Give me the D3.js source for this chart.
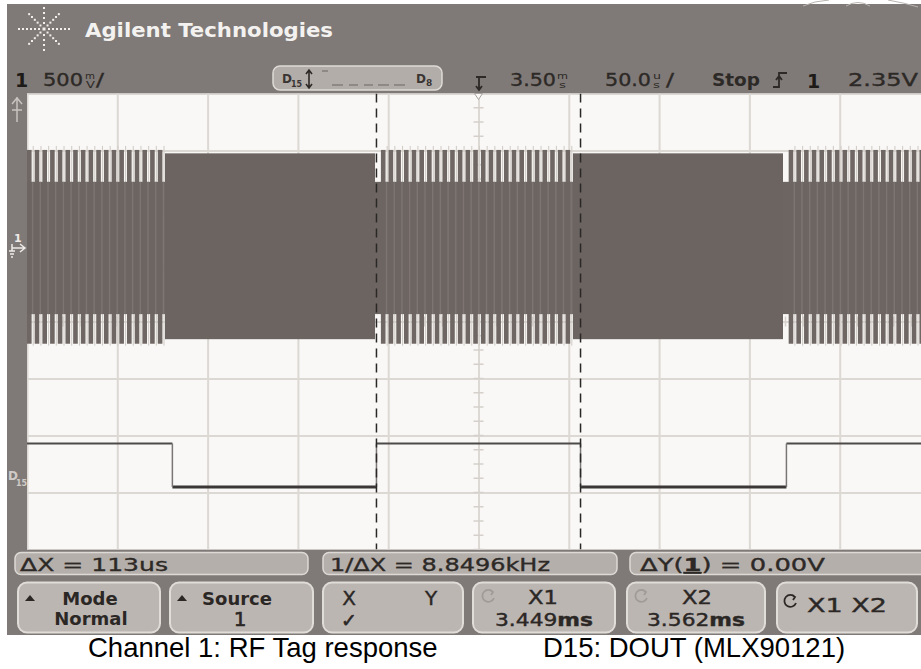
<!DOCTYPE html>
<html>
<head>
<meta charset="utf-8">
<script src="https://cdn.jsdelivr.net/npm/d3@7"></script>
<style>
  html, body { margin: 0; padding: 0; background: #ffffff; }
  svg { display: block; }
</style>
</head>
<body>
<svg id="scope" width="921" height="669"></svg>
<script>
// ---------- acquisition settings ----------
const timePerDiv = 0.05;          // ms per division (50.0 us/div)
const screenCenterTime = 3.5055;  // ms at the centre graticule line
const voltsPerDiv = 0.5;          // channel 1, 500 mV/div
const ch1CenterVolts = -0.645;    // volts at the screen's middle line

// ---------- channel 1: RF tag response ----------
// segment boundaries (ms) and whether the carrier is load-modulated there
const rfEdges = [3.3319, 3.4482, 3.5578, 3.6741];
const rfModulated = [true, false, true, false, true];
const rfCarrierAmp = [0.83, -0.80];      // unmodulated envelope (V)
const rfCoreAmp = [0.58, -0.58];         // modulated envelope, low phase (V)
const rfSpikeAmp = [0.86, -0.84];        // modulated envelope, high phase (V)
const subcarrierPeriod = 0.00426;        // ms

// ---------- digital channel D15: DOUT ----------
const d15Edges = [3.336, 3.449, 3.562, 3.676];
const d15Levels = [1, 0, 1, 0, 1];

// ---------- cursors ----------
const cursorTimes = [3.449, 3.562];      // X1, X2

// ---------- status / measurement text ----------
const headerTitle = "Agilent Technologies";
const measureLabels = ["\u0394X = 113us", "1/\u0394X = 8.8496kHz"];
const measureDY = ["\u0394Y(", "1", ") = 0.00V"];
const softkeyTop = ["Mode", "Source", "X", "X1", "X2", "X1 X2"];
const softkeyBottom = ["Normal", "1", "\u2713", "3.449ms", "3.562ms", ""];
const captions = ["Channel 1: RF Tag response", "D15: DOUT (MLX90121)"];

// ---------- layout ----------
const svg = d3.select("#scope");
const bezel = "#7f7a77";
const ink = "#2d2926";
const plot = { left: 27, top: 93.5, divW: 90.3, divH: 57, nx: 10, ny: 8 };
const plotW = plot.nx * plot.divW, plotH = plot.ny * plot.divH;
const visRight = 921;

const x = d3.scaleLinear()
  .domain([screenCenterTime - 5 * timePerDiv, screenCenterTime + 5 * timePerDiv])
  .range([plot.left, plot.left + plotW]);
const y1 = d3.scaleLinear()
  .domain([ch1CenterVolts - 4 * voltsPerDiv, ch1CenterVolts + 4 * voltsPerDiv])
  .range([plot.top + plotH, plot.top]);
const yD = d3.scaleLinear().domain([0, 1]).range([487, 443.5]);

const defs = svg.append("defs");
defs.append("clipPath").attr("id", "plotClip")
  .append("rect").attr("x", plot.left).attr("y", plot.top)
  .attr("width", visRight - plot.left).attr("height", plotH);

// bezel
svg.append("rect").attr("x", 7).attr("y", 4).attr("width", 921 - 7).attr("height", 631).attr("fill", bezel);

// decorative arcs above the bezel, top right
svg.append("path")
  .attr("d", "M803,6 Q814,1 829,0 M846,6 Q858,-1 870,6 M888,0 Q905,3 918,7")
  .attr("fill", "none").attr("stroke", "#b8b4b1").attr("stroke-width", 1);

// graticule background
svg.append("rect").attr("x", plot.left).attr("y", plot.top)
  .attr("width", visRight - plot.left).attr("height", plotH).attr("fill", "#f9f8f6");

const plotG = svg.append("g").attr("clip-path", "url(#plotClip)");

// grid through d3 axes
const divTimes = d3.range(0, plot.nx + 1).map(i => x.domain()[0] + i * timePerDiv);
const divVolts = d3.range(0, plot.ny + 1).map(i => y1.domain()[0] + i * voltsPerDiv);
const gridX = plotG.append("g").attr("transform", `translate(0,${plot.top + plotH})`)
  .call(d3.axisBottom(x).tickValues(divTimes).tickSize(-plotH).tickFormat(""));
const gridY = plotG.append("g").attr("transform", `translate(${plot.left},0)`)
  .call(d3.axisLeft(y1).tickValues(divVolts).tickSize(-plotW).tickFormat(""));
[gridX, gridY].forEach(g => {
  g.select(".domain").remove();
  g.selectAll("line").attr("stroke", "#dcd8d3").attr("stroke-width", 2);
});

// minor ticks on the centre lines
const xc = x(screenCenterTime);
const minorV = d3.range(0, plot.ny * 4 + 1).map(i => y1.domain()[0] + i * voltsPerDiv / 4);
plotG.append("g").selectAll("line").data(minorV).join("line")
  .attr("x1", xc - 5).attr("x2", xc + 5)
  .attr("y1", d => y1(d)).attr("y2", d => y1(d))
  .attr("stroke", "#d5d0cb").attr("stroke-width", 1.5);
const minorH = d3.range(0, plot.nx * 5 + 1).map(i => x.domain()[0] + i * timePerDiv / 5);
const yc = y1(ch1CenterVolts);
plotG.append("g").selectAll("line").data(minorH).join("line")
  .attr("x1", d => x(d)).attr("x2", d => x(d))
  .attr("y1", yc - 5).attr("y2", yc + 5)
  .attr("stroke", "#d5d0cb").attr("stroke-width", 1.5);

// ---------- channel 1 trace ----------
const segBounds = [x.domain()[0]].concat(rfEdges, [x.domain()[1]]);
const segments = rfModulated.map((m, i) => ({ t0: segBounds[i], t1: segBounds[i + 1], mod: m }));
const rfG = plotG.append("g");
const waveDark = "#6c6461";

segments.filter(s => !s.mod).forEach(s => {
  rfG.append("rect")
    .attr("x", x(s.t0)).attr("width", x(s.t1) - x(s.t0))
    .attr("y", y1(rfCarrierAmp[0])).attr("height", y1(rfCarrierAmp[1]) - y1(rfCarrierAmp[0]))
    .attr("fill", waveDark);
});

const pw = x(x.domain()[0] + subcarrierPeriod) - x(x.domain()[0]);
segments.filter(s => s.mod).forEach(s => {
  const k0 = Math.ceil((s.t0 - x.domain()[0]) / subcarrierPeriod);
  const k1 = Math.floor((s.t1 - x.domain()[0]) / subcarrierPeriod);
  const pulses = d3.range(k0, k1 + 1).map(k => x.domain()[0] + k * subcarrierPeriod);
  const inside = pulses.filter(d => d + subcarrierPeriod * 0.62 <= s.t1);
  const yTop = y1(rfSpikeAmp[0]), yBot = y1(rfSpikeAmp[1]);
  const cTop = y1(rfCoreAmp[0]), cBot = y1(rfCoreAmp[1]);
  // thin light carrier peaks between bursts
  rfG.append("g").selectAll("rect").data(inside).join("rect")
    .attr("x", d => x(d) + pw * 0.74).attr("width", 1.1)
    .attr("y", yTop - 4).attr("height", yBot - yTop + 6)
    .attr("fill", "#d3cdc8");
  // full-amplitude bursts
  rfG.append("g").selectAll("rect").data(inside).join("rect")
    .attr("x", d => x(d)).attr("width", pw * 0.6)
    .attr("y", yTop).attr("height", yBot - yTop)
    .attr("fill", "#6f6764");
  // low-amplitude core
  rfG.append("rect")
    .attr("x", x(s.t0)).attr("width", x(s.t1) - x(s.t0))
    .attr("y", cTop).attr("height", cBot - cTop)
    .attr("fill", "#6d6562");
  rfG.append("g").selectAll("rect").data(inside).join("rect")
    .attr("x", d => x(d) + pw * 0.64).attr("width", 1.4)
    .attr("y", cTop).attr("height", cBot - cTop)
    .attr("fill", "#7c7572");
});

// ---------- D15 trace ----------
const dBounds = [x.domain()[0]].concat(d15Edges, [x.domain()[1]]);
const dG = plotG.append("g");
d15Levels.forEach((lv, i) => {
  dG.append("line")
    .attr("x1", x(dBounds[i])).attr("x2", x(dBounds[i + 1]))
    .attr("y1", yD(lv)).attr("y2", yD(lv))
    .attr("stroke", lv ? "#4f4a4a" : "#3b3737")
    .attr("stroke-width", lv ? 1.8 : 3);
});
d15Edges.forEach(t => {
  dG.append("line").attr("x1", x(t)).attr("x2", x(t))
    .attr("y1", yD(1)).attr("y2", yD(0))
    .attr("stroke", "#7a7575").attr("stroke-width", 1.5);
});

// ---------- cursors ----------
plotG.append("g").selectAll("line").data(cursorTimes).join("line")
  .attr("x1", d => x(d)).attr("x2", d => x(d))
  .attr("y1", plot.top).attr("y2", plot.top + plotH)
  .attr("stroke", "#2a2727").attr("stroke-width", 1.5)
  .attr("stroke-dasharray", "9,6");

// trigger position marker
svg.append("path")
  .attr("d", `M${xc - 4},${plot.top} L${xc + 4},${plot.top} L${xc},${plot.top + 6} Z`)
  .attr("fill", "#f9f8f6").attr("stroke", "#a9a39f").attr("stroke-width", 1);

// ---------- left strip markers ----------
const mk = svg.append("g").attr("fill", "none").attr("stroke", "#c9c4c0").attr("stroke-width", 1.5);
mk.append("path").attr("d", "M17,97 L17,122 M12,104 L17,98 L22,104 M12,110 L22,110");
const g0 = y1(0);
svg.append("text").attr("x", 14).attr("y", g0 - 6).text("1")
  .attr("font-family", "DejaVu Sans").attr("font-weight", "bold").attr("font-size", 11).attr("fill", "#eeeae7");
svg.append("path").attr("d", `M12,${g0 - 4} L12,${g0 + 3} M9,${g0 + 3} L15,${g0 + 3} M10,${g0 + 6} L14,${g0 + 6} M11,${g0 + 9} L13,${g0 + 9} M12,${g0} L24,${g0} M20,${g0 - 4} L25,${g0} L20,${g0 + 4}`)
  .attr("fill", "none").attr("stroke", "#eeeae7").attr("stroke-width", 1.5);
const dLab = svg.append("text").attr("x", 8).attr("y", 480)
  .attr("font-family", "DejaVu Sans").attr("font-weight", "bold").attr("fill", "#d0cbc7");
dLab.append("tspan").text("D").attr("font-size", 12);
dLab.append("tspan").text("15").attr("font-size", 8).attr("dy", 6).attr("dx", -2);

// ---------- header ----------
function txt(g, px, py, s, o = {}) {
  const t = g.append("text").attr("x", px).attr("y", py).text(s)
    .attr("font-family", o.family || "DejaVu Sans")
    .attr("font-size", o.size || 17)
    .attr("font-weight", o.weight || "normal")
    .attr("fill", o.fill || ink);
  if (o.anchor) t.attr("text-anchor", o.anchor);
  if (o.len) t.attr("textLength", o.len).attr("lengthAdjust", "spacingAndGlyphs");
  if (o.heavy) t.attr("stroke", o.fill || ink).attr("stroke-width", o.heavy);
  return t;
}
const hdr = svg.append("g");

// starburst logo
const logo = hdr.append("g").attr("fill", "#f2efec");
const lc = [44, 29];
d3.range(0, 8).forEach(i => {
  const a = i * Math.PI / 4;
  const horiz = i % 4 === 0;
  const radii = horiz ? [5, 9, 13, 17, 21, 25] : (i % 2 === 0 ? [6, 11, 16, 21] : [5, 9, 13, 17, 21]);
  radii.forEach(r => {
    logo.append("rect").attr("x", lc[0] + r * Math.cos(a) - 1).attr("y", lc[1] + r * Math.sin(a) - 1)
      .attr("width", 2).attr("height", 2);
  });
});
logo.append("rect").attr("x", lc[0] - 1.5).attr("y", lc[1] - 1.5).attr("width", 3).attr("height", 3);
txt(hdr, 85, 37, headerTitle, { size: 20, weight: "bold", fill: "#f4f2f0", len: 248 });

// status line
const hv = 0.35;
txt(hdr, 15, 87, "1", { size: 19, weight: "bold", fill: "#1d1a18" });
txt(hdr, 43, 86, "500", { len: 40, heavy: hv });
txt(hdr, 85, 79, "m", { size: 9, len: 10 });
txt(hdr, 86, 88, "V", { size: 9, len: 9 });
txt(hdr, 96, 86, "/", { len: 8, heavy: hv });

// digital channel box
hdr.append("rect").attr("x", 273).attr("y", 66).attr("width", 169).attr("height", 24).attr("rx", 7)
  .attr("fill", "#b3ada9").attr("stroke", "#dedad6").attr("stroke-width", 1.5);
const dA = hdr.append("text").attr("x", 282).attr("y", 83)
  .attr("font-family", "DejaVu Sans").attr("font-weight", "bold").attr("fill", "#3a3533");
dA.append("tspan").text("D").attr("font-size", 12);
dA.append("tspan").text("15").attr("font-size", 8).attr("dy", 4).attr("dx", -1);
hdr.append("path").attr("d", "M309,71 L309,87 M306,74 L309,70 L312,74 M306,84 L309,88 L312,84")
  .attr("fill", "none").attr("stroke", "#2d2926").attr("stroke-width", 1.6);
hdr.append("path").attr("d", "M322,71 L328,71 M332,85 L343,85 M349,85 L358,85 M364,85 L373,85 M378,85 L389,85 M394,85 L405,85")
  .attr("fill", "none").attr("stroke", "#8f8985").attr("stroke-width", 2);
const dB = hdr.append("text").attr("x", 416).attr("y", 83)
  .attr("font-family", "DejaVu Sans").attr("font-weight", "bold").attr("fill", "#3a3533");
dB.append("tspan").text("D").attr("font-size", 12);
dB.append("tspan").text("8").attr("font-size", 9).attr("dy", 3);

// trigger delay glyph
hdr.append("path").attr("d", "M476,77 L486,77 M479,77 L479,90 M476,86 L479,90 L482,86")
  .attr("fill", "none").attr("stroke", ink).attr("stroke-width", 1.8);
txt(hdr, 510, 86, "3.50", { len: 46, heavy: hv });
txt(hdr, 557, 79, "m", { size: 9, len: 11 });
txt(hdr, 559, 88, "s", { size: 9, len: 7 });
txt(hdr, 605, 86, "50.0", { len: 46, heavy: hv });
txt(hdr, 653, 79, "u", { size: 9, len: 8 });
txt(hdr, 653, 88, "s", { size: 9, len: 7 });
txt(hdr, 666, 86, "/", { len: 8, heavy: hv });
txt(hdr, 712, 86, "Stop", { weight: "bold", len: 48 });
hdr.append("path").attr("d", "M773,87 L779,87 L779,73 L787,73 M776,80 L779,76 L782,80")
  .attr("fill", "none").attr("stroke", ink).attr("stroke-width", 1.8);
txt(hdr, 807, 88, "1", { size: 19, weight: "bold", fill: "#1d1a18" });
txt(hdr, 848, 86, "2.35V", { len: 70, heavy: hv });

// ---------- measurement line ----------
const meas = svg.append("g");
const measBoxes = [[15, 308], [323, 617], [630, 935]];
measBoxes.forEach(b => {
  meas.append("rect").attr("x", b[0]).attr("y", 552.5).attr("width", b[1] - b[0]).attr("height", 22).attr("rx", 6)
    .attr("fill", "#b5afab").attr("stroke", "#ddd9d5").attr("stroke-width", 1.5);
});
txt(meas, 20, 571, measureLabels[0], { size: 18, len: 148, heavy: hv });
txt(meas, 330, 571, measureLabels[1], { size: 18, len: 220, heavy: hv });
const dyT = meas.append("text").attr("x", 640).attr("y", 571)
  .attr("font-family", "DejaVu Sans").attr("font-size", 18).attr("fill", ink)
  .attr("stroke", ink).attr("stroke-width", hv)
  .attr("textLength", 185).attr("lengthAdjust", "spacingAndGlyphs");
dyT.append("tspan").text(measureDY[0]);
dyT.append("tspan").text(measureDY[1]).attr("font-weight", "bold").attr("text-decoration", "underline");
dyT.append("tspan").text(measureDY[2]);

// ---------- softkeys ----------
const keys = svg.append("g");
const keyBoxes = [[18, 160], [170, 313], [323, 463], [473, 615], [627, 765], [777, 917]];
keyBoxes.forEach(b => {
  keys.append("rect").attr("x", b[0]).attr("y", 582.5).attr("width", b[1] - b[0]).attr("height", 50).attr("rx", 9)
    .attr("fill", "#bcb6b2").attr("stroke", "#e0dcd8").attr("stroke-width", 2);
});
const kb = { size: 18, weight: "bold", fill: "#2b2725" };
// Mode / Normal
keys.append("path").attr("d", "M25,601 L30,595 L35,601 Z").attr("fill", "#2b2725");
txt(keys, 90, 605, softkeyTop[0], { ...kb, anchor: "middle" });
txt(keys, 91, 625, softkeyBottom[0], { ...kb, anchor: "middle" });
// Source / 1
keys.append("path").attr("d", "M177,601 L182,595 L187,601 Z").attr("fill", "#2b2725");
txt(keys, 237, 605, softkeyTop[1], { ...kb, anchor: "middle" });
txt(keys, 240, 626, softkeyBottom[1], { size: 20, fill: "#2b2725", anchor: "middle", heavy: 0.6 });
// X  Y  check
txt(keys, 349, 605, softkeyTop[2], { size: 20, fill: "#2b2725", anchor: "middle", heavy: 0.4 });
txt(keys, 431, 605, "Y", { size: 20, fill: "#2b2725", anchor: "middle", heavy: 0.4 });
txt(keys, 349, 627, softkeyBottom[2], { size: 19, fill: "#2b2725", anchor: "middle", heavy: 0.6 });
// X1 / X2 positions
const knob = (cx, cy, col) => keys.append("path")
  .attr("d", `M${cx + 5},${cy - 4} A6,6 0 1,0 ${cx + 6},${cy + 2} M${cx + 2},${cy - 6} L${cx + 5},${cy - 4} L${cx + 3},${cy - 1}`)
  .attr("fill", "none").attr("stroke", col).attr("stroke-width", 1.8);
knob(488, 596, "#a19b97");
txt(keys, 543, 604, softkeyTop[3], { size: 19, fill: "#2b2725", anchor: "middle", len: 30, heavy: 0.4 });
const v1 = txt(keys, 495, 626, "", { size: 18, fill: "#2b2725", heavy: 0.4 });
v1.append("tspan").text(softkeyBottom[3].replace("ms", ""));
v1.append("tspan").text("ms").attr("font-weight", "bold");
v1.attr("textLength", 98).attr("lengthAdjust", "spacingAndGlyphs");
knob(641, 596, "#a19b97");
txt(keys, 697, 604, softkeyTop[4], { size: 19, fill: "#2b2725", anchor: "middle", len: 30, heavy: 0.4 });
const v2 = txt(keys, 647, 626, "", { size: 18, fill: "#2b2725", heavy: 0.4 });
v2.append("tspan").text(softkeyBottom[4].replace("ms", ""));
v2.append("tspan").text("ms").attr("font-weight", "bold");
v2.attr("textLength", 98).attr("lengthAdjust", "spacingAndGlyphs");
// X1 X2 together
knob(790, 601, "#2b2725");
txt(keys, 807, 612, softkeyTop[5], { size: 20, fill: "#2b2725", len: 80, heavy: 0.4 });

// ---------- captions ----------
txt(svg, 88, 657, captions[0], { family: "Liberation Sans, Arial, sans-serif", size: 27.5, fill: "#000" });
txt(svg, 543, 657, captions[1], { family: "Liberation Sans, Arial, sans-serif", size: 27.5, fill: "#000" });
</script>
</body>
</html>
